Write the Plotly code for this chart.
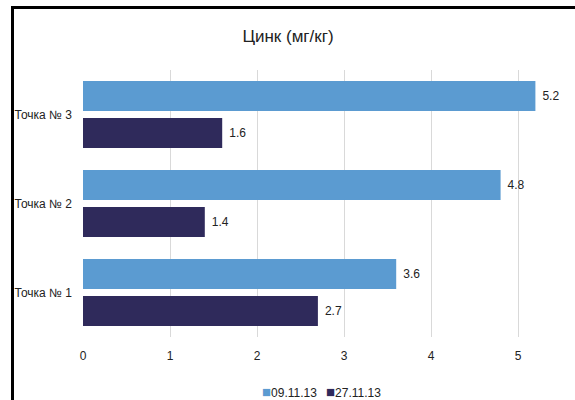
import plotly.graph_objects as go

categories = ["Точка № 1", "Точка № 2", "Точка № 3"]
series_a_name = "09.11.13"
series_a = [3.6, 4.8, 5.2]
series_b_name = "27.11.13"
series_b = [2.7, 1.4, 1.6]
x_ticks = [0, 1, 2, 3, 4, 5]

FONT = "Liberation Sans Narrow, Arial Narrow, Liberation Sans, Arial, sans-serif"
TXT = "#222222"
C_A = "#5B9BD1"
C_B = "#2F2A5B"

W, H = 575, 400
ML, MR, MT, MB = 83, 0, 70, 63
PW, PH = W - ML - MR, H - MT - MB

fig = go.Figure()
fig.add_trace(go.Bar(
    y=categories, x=series_b, name=series_b_name, orientation="h",
    marker=dict(color=C_B, line=dict(width=0)),
    text=[f"{v:.1f}" for v in series_b], texttemplate="\u2004%{text}",
    textposition="outside",
    textfont=dict(family=FONT, size=12, color=TXT), cliponaxis=False,
))
fig.add_trace(go.Bar(
    y=categories, x=series_a, name=series_a_name, orientation="h",
    marker=dict(color=C_A, line=dict(width=0)),
    text=[f"{v:.1f}" for v in series_a], texttemplate="\u2004%{text}",
    textposition="outside",
    textfont=dict(family=FONT, size=12, color=TXT), cliponaxis=False,
))

xmax = PW / 87.0
px2paperx = lambda p: (p - ML) / PW
py2papery = lambda p: (H - MB - p) / PH

legend_items = [(series_a_name, C_A, 289), (series_b_name, C_B, 353)]
legend_annotations = [
    dict(text=f"<span style='color:{c};font-size:15px'>■</span>{name}",
         xref="paper", yref="paper",
         x=px2paperx(cx), y=py2papery(391), xanchor="center", yanchor="middle",
         showarrow=False, font=dict(family=FONT, size=12, color=TXT))
    for name, c, cx in legend_items
]

fig.update_layout(
    width=W, height=H,
    margin=dict(l=ML, r=MR, t=MT, b=MB),
    paper_bgcolor="white", plot_bgcolor="white",
    barmode="group", bargap=0.17, bargroupgap=0.19,
    font=dict(family=FONT, size=12, color=TXT),
    title=dict(text="Цинк (мг/кг)", x=288 / W, xanchor="center", xref="container",
               y=1 - 36 / H, yanchor="middle", yref="container",
               font=dict(family=FONT, size=17, color=TXT)),
    xaxis=dict(range=[0, xmax], tickvals=x_ticks, ticktext=[str(t) for t in x_ticks],
               showgrid=True, gridcolor="#d9d9d9", gridwidth=1, zeroline=False,
               showline=False, ticks="", ticklabelstandoff=10,
               tickfont=dict(family=FONT, size=12, color=TXT)),
    yaxis=dict(categoryorder="array", categoryarray=categories,
               showgrid=False, zeroline=False, showline=False, ticks="",
               ticklabelstandoff=10,
               tickfont=dict(family=FONT, size=12, color=TXT)),
    showlegend=False,
    annotations=legend_annotations,
    shapes=[
        dict(type="rect", xref="paper", yref="paper",
             x0=px2paperx(12.5), x1=px2paperx(W + 20),
             y0=py2papery(H + 20), y1=py2papery(7.5),
             line=dict(color="black", width=3), fillcolor="rgba(0,0,0,0)", layer="above"),
    ],
)

fig.write_html("out.html")
